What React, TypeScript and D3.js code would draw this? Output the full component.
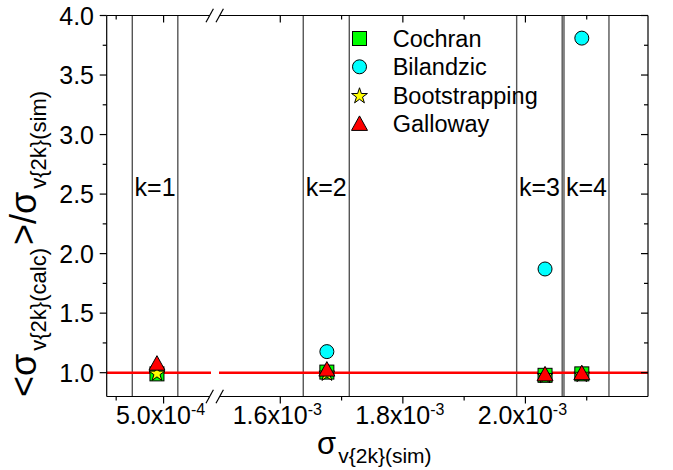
import React from 'react';
import * as d3 from 'd3';

// ---- data ----
const kLabels = ['k=1', 'k=2', 'k=3', 'k=4'];
const sigmaSim = [4.93e-4, 1.676e-3, 2.032e-3, 2.092e-3];
const cochran = [0.99, 1.005, 0.978, 0.99];
const bilandzic = [1.01, 1.177, 1.871, 3.81];
const bootstrapping = [1.0, 1.0, 0.98, 0.99];
const galloway = [1.08, 1.03, 0.99, 1.0];
const bandLow = [4.67e-4, 1.6375e-3, 1.9857e-3, 2.0629e-3];
const bandHigh = [5.15e-4, 1.7126e-3, 2.06e-3, 2.1363e-3];
const refValue = 1.0;

const leftDomain = [4.4e-4, 5.5e-4];
const rightDomain = [1.5e-3, 2.2e-3];
const xMajor = [5.0e-4, 1.6e-3, 1.8e-3, 2.0e-3];
const xMajorMantissa = ['5.0', '1.6', '1.8', '2.0'];
const xMajorExp = ['-4', '-3', '-3', '-3'];
const xMinor = [4.5e-4, 1.7e-3, 1.9e-3, 2.1e-3];
const yDomain = [0.8, 4.0];
const yMajor = [1.0, 1.5, 2.0, 2.5, 3.0, 3.5, 4.0];
const yMajorLabels = ['1.0', '1.5', '2.0', '2.5', '3.0', '3.5', '4.0'];
const yMinor = [1.25, 1.75, 2.25, 2.75, 3.25, 3.75];

const seriesNames = ['Cochran', 'Bilandzic', 'Bootstrapping', 'Galloway'];

// ---- layout ----
const W = 673;
const H = 470;
const plotLeft = 106.7;
const plotRight = 648;
const plotTop = 15.5;
const plotBottom = 396.5;
const breakL = 211;
const breakR = 219;
const FONT = 'Liberation Sans, Arial, sans-serif';

const xl = d3.scaleLinear().domain(leftDomain).range([plotLeft, breakL]);
const xr = d3.scaleLinear().domain(rightDomain).range([breakR, plotRight]);
const x = (v: number) => (v < 1e-3 ? xl(v) : xr(v));
const y = d3.scaleLinear().domain(yDomain).range([plotBottom, plotTop]);

const starPath = d3.symbol().type(d3.symbolStar).size(78)() as string;
const triPath = 'M0,-7.5L8,7L-8,7Z';

function Marker({ kind, cx, cy }: { kind: number; cx: number; cy: number }) {
  const common = { stroke: '#000', strokeWidth: 1 };
  if (kind === 0)
    return <rect x={cx - 7} y={cy - 7} width={14} height={14} fill="#00ff00" {...common} />;
  if (kind === 1) return <circle cx={cx} cy={cy} r={7} fill="#00ffff" {...common} />;
  if (kind === 2)
    return <path d={starPath} transform={`translate(${cx},${cy + 1})`} fill="#ffff00" {...common} />;
  return <path d={triPath} transform={`translate(${cx},${cy})`} fill="#ff0000" {...common} />;
}

export default function App() {
  const seriesVals = [cochran, bilandzic, bootstrapping, galloway];
  const drawOrder = [1, 0, 2, 3];
  const slash = (cx: number, cy: number, key: string) => (
    <line key={key} x1={cx - 3.7} y1={cy + 6.7} x2={cx + 3.7} y2={cy - 6.7} stroke="#000" strokeWidth={1.2} />
  );
  return (
    <svg
      width={W}
      height={H}
      style={{ position: 'absolute', left: 0, top: 0, background: '#fff' }}
      fontFamily={FONT}
    >
      <rect x={0} y={0} width={W} height={H} fill="#fff" />

      {/* band lines */}
      {kLabels.map((k, i) => (
        <g key={k}>
          {[bandLow[i], bandHigh[i]].map((b, j) => (
            <line key={j} x1={x(b)} x2={x(b)} y1={plotTop} y2={plotBottom} stroke="#555" strokeWidth={1.4} />
          ))}
          <text x={(x(bandLow[i]) + x(bandHigh[i])) / 2} y={196} fontSize={25} textAnchor="middle" fill="#000">
            {k}
          </text>
        </g>
      ))}

      {/* reference line */}
      <line x1={xl(leftDomain[0])} x2={xl(leftDomain[1])} y1={y(refValue)} y2={y(refValue)} stroke="#ff0000" strokeWidth={2.4} />
      <line x1={xr(rightDomain[0])} x2={xr(rightDomain[1])} y1={y(refValue)} y2={y(refValue)} stroke="#ff0000" strokeWidth={2.4} />

      {/* frame */}
      <g stroke="#000" strokeWidth={1.2}>
        <line x1={plotLeft} x2={plotLeft} y1={plotTop} y2={plotBottom} />
        <line x1={plotRight} x2={plotRight} y1={plotTop} y2={plotBottom} />
        <line x1={plotLeft} x2={breakL - 1} y1={plotTop} y2={plotTop} />
        <line x1={breakR + 0.7} x2={plotRight} y1={plotTop} y2={plotTop} />
        <line x1={plotLeft} x2={breakL - 1} y1={plotBottom} y2={plotBottom} />
        <line x1={breakR + 0.7} x2={plotRight} y1={plotBottom} y2={plotBottom} />
      </g>
      {slash(breakL - 1.3, plotTop, 's1')}
      {slash(breakR + 0.7, plotTop, 's2')}
      {slash(breakL - 1.3, plotBottom, 's3')}
      {slash(breakR + 0.7, plotBottom, 's4')}

      {/* x ticks */}
      <g stroke="#000" strokeWidth={1.2}>
        {xMajor.map((v) => (
          <g key={'M' + v}>
            <line x1={x(v)} x2={x(v)} y1={plotBottom} y2={plotBottom + 7} />
            <line x1={x(v)} x2={x(v)} y1={plotTop} y2={plotTop + 7} />
          </g>
        ))}
        {xMinor.map((v) => (
          <g key={'m' + v}>
            <line x1={x(v)} x2={x(v)} y1={plotBottom} y2={plotBottom + 4} />
            <line x1={x(v)} x2={x(v)} y1={plotTop} y2={plotTop + 4} />
          </g>
        ))}
      </g>
      {xMajor.map((v, i) => (
        <text key={'xl' + v} x={x(v) - 3} y={424} fontSize={25} textAnchor="middle" fill="#000">
          {xMajorMantissa[i] + 'x10'}
          <tspan fontSize={16} dy={-9}>
            {xMajorExp[i]}
          </tspan>
        </text>
      ))}

      {/* y ticks */}
      <g stroke="#000" strokeWidth={1.2}>
        {yMajor.map((v) => (
          <g key={'yM' + v}>
            <line x1={plotLeft - 7} x2={plotLeft} y1={y(v)} y2={y(v)} />
            <line x1={plotRight - 7} x2={plotRight} y1={y(v)} y2={y(v)} />
          </g>
        ))}
        {yMinor.map((v) => (
          <g key={'ym' + v}>
            <line x1={plotLeft - 4} x2={plotLeft} y1={y(v)} y2={y(v)} />
            <line x1={plotRight - 4} x2={plotRight} y1={y(v)} y2={y(v)} />
          </g>
        ))}
      </g>
      {yMajor.map((v, i) => (
        <text key={'yl' + v} x={94} y={y(v) + 9} fontSize={25} textAnchor="end" fill="#000">
          {yMajorLabels[i]}
        </text>
      ))}

      {/* data */}
      {drawOrder.map((s) => (
        <g key={'s' + s}>
          {sigmaSim.map((sv, i) => (
            <Marker key={i} kind={s} cx={x(sv)} cy={y(seriesVals[s][i])} />
          ))}
        </g>
      ))}

      {/* legend */}
      {seriesNames.map((n, i) => (
        <g key={n}>
          <Marker kind={i} cx={359.5} cy={38.5 + i * 28.3} />
          <text x={392.7} y={38.5 + i * 28.3 + 8.5} fontSize={23.5} fill="#000">
            {n}
          </text>
        </g>
      ))}

      {/* axis titles */}
      <text x={(plotLeft + plotRight) / 2 - 3} y={454} textAnchor="middle" fill="#000">
        <tspan fontSize={31}>σ</tspan>
        <tspan fontSize={21} dy={9} dx={2}>
          v{'{'}2k{'}'}(sim)
        </tspan>
      </text>
      <text transform="translate(36,397) rotate(-90)" textAnchor="start" fill="#000">
        <tspan fontSize={36}>{'<σ'}</tspan>
        <tspan fontSize={22} dy={9.5} dx={3}>
          v{'{'}2k{'}'}(calc)
        </tspan>
        <tspan fontSize={36} dy={-9.5} dx={3}>
          {'>/σ'}
        </tspan>
        <tspan fontSize={22} dy={9.5} dx={3}>
          v{'{'}2k{'}'}(sim)
        </tspan>
      </text>
    </svg>
  );
}
